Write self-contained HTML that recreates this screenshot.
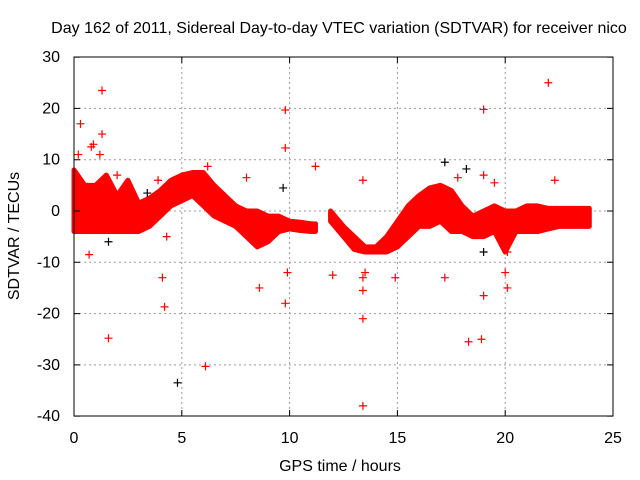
<!DOCTYPE html>
<html><head><meta charset="utf-8"><style>
body{margin:0;background:#fff}
svg{display:block;font-family:"Liberation Sans",sans-serif}
</style></head><body>
<svg id="chart" width="640" height="480" viewBox="0 0 640 480">
<text x="339" y="33" font-size="16" text-anchor="middle" fill="#000">Day 162 of 2011, Sidereal Day-to-day VTEC variation (SDTVAR) for receiver nico</text>
<text transform="translate(19,236) rotate(-90)" font-size="16" text-anchor="middle">SDTVAR / TECUs</text>
<text x="340" y="471" font-size="16" text-anchor="middle">GPS time / hours</text>
<g id="grid"></g>
<g id="band"></g>
<g id="pts"></g>
<rect x="74" y="57" width="539" height="359" fill="none" stroke="#000" stroke-width="1"/>
<g id="ticks"></g>
</svg>
<script>
const xTicks=[0,5,10,15,20,25];
const yTicks=[30,20,10,0,-10,-20,-30,-40];
const bandHours1=[0,0.5,1,1.5,2,2.5,3,3.5,4,4.5,5,5.5,6,6.5,7,7.5,8,8.5,9,9.5,10,10.5,11,11.2];
const bandUpper1=[8,5,5,7,3,6,1.5,2.5,4,6,7,7.5,7.5,5,3,1,0,0,-1,-1,-2,-2.2,-2.5,-2.5];
const bandLower1=[-4,-4,-4,-4,-4,-4,-4,-3,-1,1,2,3,1,-1,-2,-3,-5,-7,-6,-4,-3.5,-3.8,-4,-4];
const bandHours2=[11.9,12.5,13,13.5,14,14.5,15,15.5,16,16.5,17,17.5,18,18.5,19,19.5,20,20.5,21,21.5,22,22.5,23,23.5,23.9];
const bandUpper2=[0,-3,-5,-7,-7,-5,-2,1,3,4.5,5,4,1,-1,0,1,0,0,1,1,0.5,0.5,0.5,0.5,0.5];
const bandLower2=[-2,-5,-7.5,-8,-8,-8,-7,-5,-3,-3,-2,-4,-4,-5,-5,-4,-8,-4,-4,-4,-3.5,-3,-3,-3,-3];
const redHours=[0.3,1.3,1.3,1.6,4.1,4.2,6.1,8.6,9.8,9.8,9.8,9.9,11.2,12,13.4,13.4,13.4,13.4,13.4,14.9,17.2,18.3,18.9,19,19,19,22,22.3,0.7,2,0.8,3.9,8,20.1,20.1,19.5,17.8,0.2,0.1,13.5,20,0.9,1.2,6.2,4.3];
const redValues=[17,23.5,15,-24.8,-13,-18.7,-30.3,-15,19.7,12.3,-18,-12,8.7,-12.5,-21,-38,-15.5,-13,6,-13,-13,-25.5,-25,-16.5,19.8,7,25,6,-8.5,7,12.5,6,6.5,-8,-15,5.5,6.5,11,6,-12,-12,13,11,8.7,-5];
const blackHours=[4.8,9.7,17.2,18.2,19,3.4,1.6];
const blackValues=[-33.5,4.5,9.5,8.2,-8,3.5,-6];
const X=h=>74+h*(539/25);
const Y=v=>211-v*(359/70);
const NS="http://www.w3.org/2000/svg";
const grid=document.getElementById('grid'),ticks=document.getElementById('ticks');
xTicks.forEach(t=>{
 const x=X(t);
 if(t>0&&t<25){const l=document.createElementNS(NS,'line');
 
 
 l.setAttribute('x1',x);l.setAttribute('x2',x);l.setAttribute('y1',57);l.setAttribute('y2',416);
 l.setAttribute('stroke','#999');l.setAttribute('stroke-dasharray','2,3');grid.appendChild(l);}
 const tk=document.createElementNS(NS,'path');
 
 
 tk.setAttribute('d',`M${x} 416v-6M${x} 57v6`);tk.setAttribute('stroke','#000');ticks.appendChild(tk);
 const tx=document.createElementNS(NS,'text');
 
 
 tx.setAttribute('x',x);tx.setAttribute('y',443);tx.setAttribute('font-size','16');tx.setAttribute('text-anchor','middle');
 tx.textContent=t;ticks.appendChild(tx);
});
yTicks.forEach(t=>{
 const y=Y(t);
 if(t<30&&t>-40){const l=document.createElementNS(NS,'line');
 
 
 l.setAttribute('x1',74);l.setAttribute('x2',613);l.setAttribute('y1',y);l.setAttribute('y2',y);
 l.setAttribute('stroke','#999');l.setAttribute('stroke-dasharray','2,3');grid.appendChild(l);}
 const tk=document.createElementNS(NS,'path');
 
 
 tk.setAttribute('d',`M74 ${y}h6M613 ${y}h-6`);tk.setAttribute('stroke','#000');ticks.appendChild(tk);
 const tx=document.createElementNS(NS,'text');
 
 
 tx.setAttribute('x',60);tx.setAttribute('y',y+5);tx.setAttribute('font-size','16');tx.setAttribute('text-anchor','end');
 tx.textContent=t;ticks.appendChild(tx);
});
function band(hs,up,lo){
 let d='M'+hs.map((h,i)=>X(h)+' '+Y(up[i])).join('L');
 for(let i=hs.length-1;i>=0;i--)d+='L'+X(hs[i])+' '+Y(lo[i]);
 const p=document.createElementNS(NS,'path');
 
 
 p.setAttribute('d',d+'Z');p.setAttribute('fill','#f00');p.setAttribute('stroke','#f00');p.setAttribute('stroke-width','5');p.setAttribute('stroke-linejoin','round');
 document.getElementById('band').appendChild(p);
}
band(bandHours1,bandUpper1,bandLower1);
band(bandHours2,bandUpper2,bandLower2);
function plus(h,v,c){
 const x=X(h),y=Y(v);
 const p=document.createElementNS(NS,'path');
 
 
 p.setAttribute('d',`M${x-4} ${y}h8M${x} ${y-4}v8`);p.setAttribute('stroke',c);p.setAttribute('stroke-width','1.2');
 document.getElementById('pts').appendChild(p);
}
redHours.forEach((h,i)=>plus(h,redValues[i],'#f00'));
blackHours.forEach((h,i)=>plus(h,blackValues[i],'#000'));
</script>
</body></html>
